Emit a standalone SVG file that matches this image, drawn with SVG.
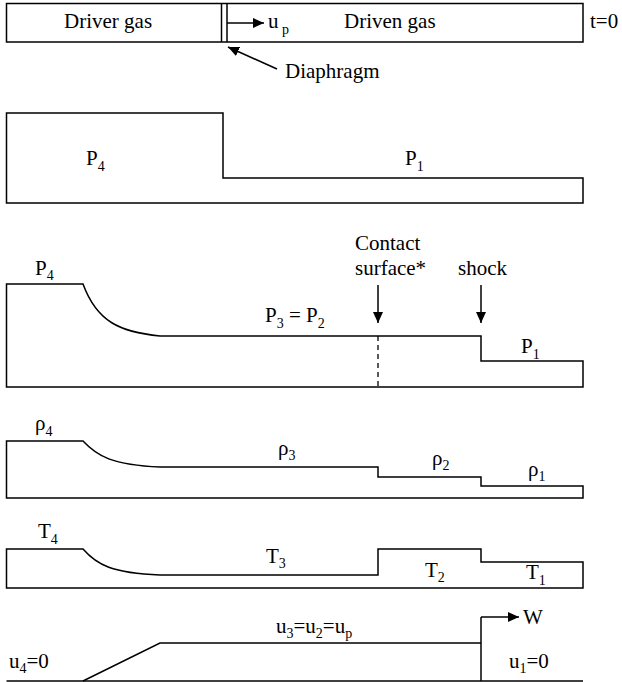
<svg xmlns="http://www.w3.org/2000/svg" width="622" height="682" viewBox="0 0 622 682">
<style>
text { font-family: "Liberation Serif", Tinos, "Times New Roman", Times, "Nimbus Roman", "Noto Serif", "DejaVu Serif", serif; font-size: 21px; fill: #000; }
.sub { font-size: 14px; }
.ln { fill: none; stroke: #000; stroke-width: 1.5; }
.dash { fill: none; stroke: #000; stroke-width: 1.3; stroke-dasharray: 5 4; }
.arr { fill: none; stroke: #000; stroke-width: 1.5; marker-end: url(#ah); }
</style>
<defs>
<marker id="ah" markerUnits="userSpaceOnUse" viewBox="0 0 12 12" markerWidth="12" markerHeight="12" refX="11" refY="6" orient="auto">
<path d="M0,1 L11,6 L0,11 z" fill="#000"/>
</marker>
</defs>
<rect width="622" height="682" fill="#fff"/>

<g id="tube">
<rect class="ln" x="6.5" y="3.5" width="576.5" height="38.5"/>
<line class="ln" x1="221.5" y1="3.5" x2="221.5" y2="42"/>
<line class="ln" x1="227" y1="3.5" x2="227" y2="42"/>
<text x="64" y="28">Driver gas</text>
<text x="344" y="28">Driven gas</text>
<text x="268" y="28">u</text><text class="sub" x="282" y="34">p</text>
<text x="590" y="28">t=0</text>
<text x="285" y="78">Diaphragm</text>
</g>

<g id="pressure-initial">
<path class="ln" d="M6.5,113 H223 V178 H583 V203 H6.5 Z"/>
<text x="86" y="165">P<tspan class="sub" dy="6">4</tspan></text>
<text x="405" y="165">P<tspan class="sub" dy="6">1</tspan></text>
</g>

<g id="pressure-profile">
<path class="ln" d="M6.5,284 H83 C97,322 120,332 160,336 H481 V361 H583 V387 H6.5 Z"/>
<line class="dash" x1="378" y1="336" x2="378" y2="387"/>
<text x="35" y="275">P<tspan class="sub" dy="5">4</tspan></text>
<text x="265" y="322">P<tspan class="sub" dy="6">3</tspan><tspan dy="-6"> = </tspan>P<tspan class="sub" dy="6">2</tspan></text>
<text x="521" y="353">P<tspan class="sub" dy="6">1</tspan></text>
<text x="355" y="250">Contact</text>
<text x="355" y="275">surface*</text>
<text x="458" y="275">shock</text>
</g>

<g id="density-profile">
<path class="ln" d="M6.5,441 H83 C97,456 112,465 160,467 H378 V477 H481 V486 H583 V498 H6.5 Z"/>
<text x="35" y="430">ρ<tspan class="sub" dy="6">4</tspan></text>
<text x="278" y="455">ρ<tspan class="sub" dy="5">3</tspan></text>
<text x="432" y="465">ρ<tspan class="sub" dy="5">2</tspan></text>
<text x="528" y="476">ρ<tspan class="sub" dy="5">1</tspan></text>
</g>

<g id="temperature-profile">
<path class="ln" d="M6.5,549 H83 C97,565 112,573 160,575 H378 V549 H481 V562 H583 V588 H6.5 Z"/>
<text x="38" y="538">T<tspan class="sub" dy="6">4</tspan></text>
<text x="266" y="563">T<tspan class="sub" dy="5">3</tspan></text>
<text x="425" y="577">T<tspan class="sub" dy="5">2</tspan></text>
<text x="526" y="579">T<tspan class="sub" dy="6">1</tspan></text>
</g>

<g id="velocity-profile">
<line class="ln" x1="6.5" y1="681" x2="583" y2="681"/>
<path class="ln" d="M83,681 L160,643 H481"/>
<line class="ln" x1="481" y1="681" x2="481" y2="617"/>
<text x="276" y="633">u<tspan class="sub" dy="5">3</tspan><tspan dy="-5">=u</tspan><tspan class="sub" dy="5">2</tspan><tspan dy="-5">=u</tspan><tspan class="sub" dy="5">p</tspan></text>
<text x="523" y="624">W</text>
<text x="9" y="668">u<tspan class="sub" dy="5">4</tspan><tspan dy="-5">=0</tspan></text>
<text x="509" y="668">u<tspan class="sub" dy="5">1</tspan><tspan dy="-5">=0</tspan></text>
</g>

<g id="connectors">
<path class="arr" d="M227,23 H264"/>
<path class="arr" d="M277,69 L228,47"/>
<path class="arr" d="M378,285 V323"/>
<path class="arr" d="M481,285 V323"/>
<path class="arr" d="M481,617 H519"/>
</g>
</svg>
